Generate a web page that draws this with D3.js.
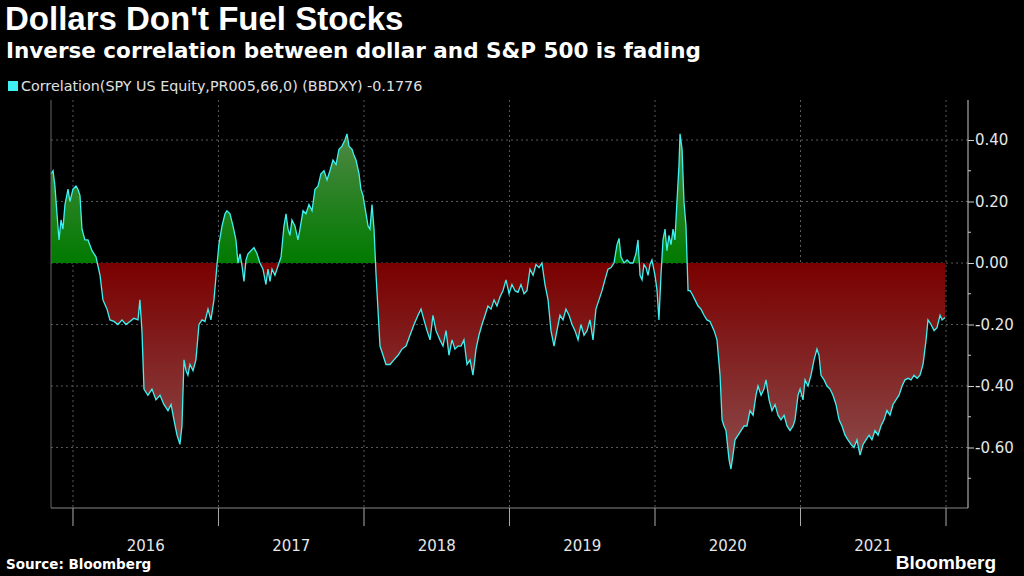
<!DOCTYPE html>
<html>
<head>
  <script src="https://d3js.org/d3.v7.min.js"></script>
  <style>
    body { margin: 0; background: #000; }
    text { font-family: "DejaVu Sans", sans-serif; }
  </style>
</head>
<body>
<div id="chart"></div>
<script>
// decimal-year dates and correlation values
const times = [2015.849,2015.863,2015.876,2015.890,2015.904,2015.918,2015.931,2015.945,2015.966,2015.979,
2016.000,2016.021,2016.034,2016.048,2016.062,2016.082,2016.103,2016.131,2016.158,2016.186,2016.206,2016.234,2016.254,2016.282,2016.309,2016.337,2016.364,2016.392,2016.419,2016.447,2016.460,2016.474,2016.488,2016.515,2016.543,2016.570,2016.598,2016.625,2016.653,2016.674,2016.694,2016.715,2016.735,2016.749,2016.763,2016.777,2016.790,2016.804,2016.825,2016.845,2016.866,2016.887,2016.907,2016.928,2016.948,2016.969,2016.990,
2017.003,2017.024,2017.045,2017.058,2017.079,2017.100,2017.120,2017.134,2017.148,2017.162,2017.175,2017.189,2017.203,2017.223,2017.244,2017.265,2017.285,2017.306,2017.326,2017.340,2017.354,2017.368,2017.388,2017.402,2017.416,2017.430,2017.450,2017.464,2017.478,2017.491,2017.505,2017.526,2017.546,2017.560,2017.581,2017.601,2017.622,2017.643,2017.663,2017.684,2017.704,2017.725,2017.746,2017.766,2017.787,2017.808,2017.828,2017.849,2017.869,2017.883,2017.897,2017.918,2017.931,2017.945,2017.966,2017.979,2017.993,
2018.014,2018.028,2018.041,2018.055,2018.069,2018.083,2018.096,2018.110,2018.131,2018.151,2018.179,2018.206,2018.234,2018.261,2018.289,2018.316,2018.344,2018.371,2018.392,2018.412,2018.433,2018.454,2018.474,2018.495,2018.522,2018.543,2018.564,2018.584,2018.605,2018.625,2018.646,2018.667,2018.687,2018.708,2018.729,2018.749,2018.770,2018.790,2018.811,2018.832,2018.852,2018.873,2018.894,2018.914,2018.935,2018.955,2018.976,2018.997,
2019.017,2019.038,2019.058,2019.079,2019.100,2019.120,2019.141,2019.162,2019.182,2019.203,2019.223,2019.244,2019.265,2019.285,2019.306,2019.326,2019.347,2019.368,2019.388,2019.409,2019.430,2019.450,2019.471,2019.491,2019.512,2019.533,2019.553,2019.574,2019.594,2019.615,2019.636,2019.656,2019.677,2019.698,2019.718,2019.739,2019.753,2019.766,2019.787,2019.808,2019.828,2019.849,2019.869,2019.883,2019.897,2019.911,2019.924,2019.938,2019.952,2019.966,2019.979,
2020.000,2020.014,2020.027,2020.041,2020.055,2020.069,2020.082,2020.096,2020.110,2020.124,2020.137,2020.151,2020.165,2020.172,2020.186,2020.199,2020.213,2020.227,2020.241,2020.254,2020.275,2020.296,2020.316,2020.337,2020.357,2020.378,2020.406,2020.426,2020.447,2020.461,2020.474,2020.488,2020.509,2020.522,2020.536,2020.550,2020.571,2020.591,2020.612,2020.632,2020.653,2020.674,2020.694,2020.708,2020.729,2020.749,2020.763,2020.784,2020.804,2020.825,2020.845,2020.866,2020.887,2020.907,2020.928,2020.949,2020.962,2020.983,2020.997,
2021.017,2021.031,2021.052,2021.072,2021.093,2021.113,2021.127,2021.141,2021.162,2021.182,2021.203,2021.223,2021.244,2021.265,2021.285,2021.306,2021.326,2021.347,2021.368,2021.388,2021.409,2021.430,2021.450,2021.471,2021.491,2021.512,2021.533,2021.553,2021.574,2021.594,2021.615,2021.636,2021.656,2021.677,2021.698,2021.718,2021.739,2021.760,2021.780,2021.801,2021.821,2021.842,2021.863,2021.876,2021.897,2021.918,2021.938,2021.959,2021.973,2021.993];

const values = [0.29,0.30,0.25,0.16,0.075,0.14,0.11,0.19,0.24,0.20,
0.24,0.25,0.24,0.22,0.11,0.075,0.075,0.04,0.02,-0.04,-0.12,-0.15,-0.185,-0.19,-0.20,-0.185,-0.20,-0.19,-0.18,-0.185,-0.12,-0.22,-0.41,-0.43,-0.41,-0.445,-0.43,-0.46,-0.48,-0.46,-0.51,-0.56,-0.59,-0.53,-0.315,-0.35,-0.365,-0.33,-0.35,-0.315,-0.20,-0.185,-0.19,-0.15,-0.185,-0.12,-0.005,
0.06,0.12,0.16,0.17,0.16,0.12,0.075,0.00,0.03,-0.01,-0.06,0.01,0.03,0.04,0.05,0.03,0.00,-0.02,-0.07,-0.02,-0.06,-0.02,-0.04,-0.02,0.00,0.02,0.12,0.16,0.11,0.09,0.14,0.12,0.075,0.11,0.17,0.16,0.19,0.17,0.24,0.25,0.29,0.30,0.27,0.30,0.335,0.32,0.37,0.38,0.40,0.42,0.38,0.37,0.35,0.335,0.29,0.24,0.22,
0.16,0.12,0.11,0.19,0.11,-0.04,-0.15,-0.27,-0.30,-0.33,-0.33,-0.315,-0.30,-0.28,-0.27,-0.235,-0.20,-0.17,-0.15,-0.185,-0.22,-0.25,-0.17,-0.22,-0.25,-0.27,-0.22,-0.30,-0.25,-0.28,-0.27,-0.27,-0.25,-0.33,-0.315,-0.365,-0.28,-0.235,-0.20,-0.17,-0.14,-0.15,-0.12,-0.14,-0.11,-0.09,-0.055,-0.10,
-0.07,-0.09,-0.095,-0.07,-0.10,-0.09,-0.02,-0.04,-0.005,-0.015,0.00,-0.07,-0.12,-0.22,-0.27,-0.22,-0.17,-0.185,-0.15,-0.17,-0.20,-0.22,-0.25,-0.20,-0.235,-0.22,-0.185,-0.25,-0.15,-0.12,-0.09,-0.055,-0.02,-0.015,0.00,0.06,0.08,0.02,0.00,0.01,0.00,0.00,0.03,0.075,-0.04,-0.055,-0.005,-0.015,-0.04,-0.005,0.01,
-0.04,-0.09,-0.185,-0.04,0.075,0.11,0.04,0.09,0.06,0.11,0.075,0.20,0.32,0.42,0.37,0.20,0.12,-0.09,-0.09,-0.10,-0.12,-0.14,-0.15,-0.17,-0.185,-0.19,-0.22,-0.25,-0.365,-0.51,-0.53,-0.545,-0.64,-0.67,-0.625,-0.575,-0.56,-0.545,-0.53,-0.53,-0.48,-0.495,-0.43,-0.40,-0.43,-0.41,-0.38,-0.445,-0.48,-0.46,-0.495,-0.51,-0.495,-0.53,-0.545,-0.53,-0.51,-0.43,-0.41,
-0.445,-0.38,-0.40,-0.365,-0.315,-0.28,-0.30,-0.365,-0.38,-0.40,-0.41,-0.43,-0.46,-0.51,-0.53,-0.56,-0.575,-0.59,-0.60,-0.575,-0.625,-0.59,-0.575,-0.56,-0.575,-0.545,-0.56,-0.53,-0.51,-0.48,-0.495,-0.46,-0.445,-0.43,-0.40,-0.38,-0.375,-0.38,-0.365,-0.375,-0.365,-0.33,-0.25,-0.185,-0.20,-0.22,-0.21,-0.17,-0.185,-0.1776];

const years = [2016, 2017, 2018, 2019, 2020, 2021];
const yTicks = [0.4, 0.2, 0, -0.2, -0.4, -0.6];

const W = 1024, H = 576;
const pL = 51, pR = 968, pT = 100, pB = 508;
const data = times.map((t, i) => ({t, v: values[i]}));

const svg = d3.select("#chart").append("svg").attr("width", W).attr("height", H)
  .style("background", "#000");

const x = d3.scaleLinear().domain([times[0], times[times.length - 1]]).range([pL, 945]);
const y = d3.scaleLinear().domain([-0.8, 0.4]).range([509, 140]);

const defs = svg.append("defs");
const gG = defs.append("linearGradient").attr("id", "gGreen").attr("gradientUnits", "userSpaceOnUse")
  .attr("x1", 0).attr("x2", 0).attr("y1", y(0.42)).attr("y2", y(0));
gG.append("stop").attr("offset", 0).attr("stop-color", "#4f8844");
gG.append("stop").attr("offset", 1).attr("stop-color", "#007a00");
const gR = defs.append("linearGradient").attr("id", "gRed").attr("gradientUnits", "userSpaceOnUse")
  .attr("x1", 0).attr("x2", 0).attr("y1", y(0)).attr("y2", y(-0.67));
gR.append("stop").attr("offset", 0).attr("stop-color", "#7a0000");
gR.append("stop").attr("offset", 1).attr("stop-color", "#8c4c4c");
defs.append("clipPath").attr("id", "cAbove").append("rect")
  .attr("x", 0).attr("y", 0).attr("width", W).attr("height", y(0));
defs.append("clipPath").attr("id", "cBelow").append("rect")
  .attr("x", 0).attr("y", y(0)).attr("width", W).attr("height", H);

// grid
svg.append("g").selectAll("line").data(yTicks).join("line")
  .attr("x1", pL).attr("x2", pR).attr("y1", d => y(d)).attr("y2", d => y(d))
  .attr("stroke", "#5a5a5a").attr("stroke-dasharray", "2,3");
svg.append("g").selectAll("line").data(years.concat([2022])).join("line")
  .attr("x1", d => x(d)).attr("x2", d => x(d)).attr("y1", pT).attr("y2", pB)
  .attr("stroke", "#5a5a5a").attr("stroke-dasharray", "2,3");

// fills
const area = d3.area().x(d => x(d.t)).y0(y(0)).y1(d => y(d.v));
svg.append("path").datum(data).attr("d", area).attr("fill", "url(#gGreen)").attr("clip-path", "url(#cAbove)");
svg.append("path").datum(data).attr("d", area).attr("fill", "url(#gRed)").attr("clip-path", "url(#cBelow)");

svg.append("path").datum(data)
  .attr("d", d3.line().x(d => x(d.t)).y(d => y(d.v)))
  .attr("fill", "none").attr("stroke", "#3ff0f0").attr("stroke-width", 1.3);

// frame
svg.append("line").attr("x1", pL).attr("x2", pL).attr("y1", pT).attr("y2", pB).attr("stroke", "#666");
svg.append("line").attr("x1", pL).attr("x2", pR).attr("y1", pB).attr("y2", pB).attr("stroke", "#888");

// right axis
const yAxis = d3.axisRight(y).tickValues(yTicks).tickSize(6).tickFormat(d3.format(".2f"));
const ga = svg.append("g").attr("transform", `translate(${pR},0)`).call(yAxis);
ga.select(".domain").attr("d", `M0,${pT}V${pB}`).attr("stroke", "#ccc");
ga.selectAll(".tick line").attr("stroke", "#ccc");
ga.selectAll(".tick text").attr("fill", "#e6e6e6").attr("font-size", 15)
  .attr("font-family", "DejaVu Sans").attr("x", 7)
  .text(d => d3.format(".2f")(d).replace("−", "-"));
ga.append("g").selectAll("line").data([0.3, 0.1, -0.1, -0.3, -0.5, -0.7]).join("line")
  .attr("x1", 0).attr("x2", 3).attr("y1", d => y(d)).attr("y2", d => y(d)).attr("stroke", "#ccc");

// year ticks and labels
svg.append("g").selectAll("line").data(years.concat([2022])).join("line")
  .attr("x1", d => x(d)).attr("x2", d => x(d)).attr("y1", pB).attr("y2", 526)
  .attr("stroke", "#aaa");
svg.append("g").selectAll("text").data(years).join("text")
  .attr("x", d => x(d + 0.5)).attr("y", 551).attr("text-anchor", "middle")
  .attr("fill", "#e6e6e6").attr("font-size", 15).text(d => d);

// titles
svg.append("text").attr("x", 5).attr("y", 30).attr("fill", "#fff")
  .style("font-family", "Liberation Sans, Arial").attr("font-weight", "bold").attr("font-size", 33)
  .text("Dollars Don't Fuel Stocks");
svg.append("text").attr("x", 6).attr("y", 58).attr("fill", "#fff")
  .style("font-family", "DejaVu Sans").attr("font-weight", "bold").attr("font-size", 21.5)
  .text("Inverse correlation between dollar and S&P 500 is fading");
svg.append("rect").attr("x", 8).attr("y", 81).attr("width", 10).attr("height", 10).attr("fill", "#3ff0f0");
svg.append("text").attr("x", 21).attr("y", 91).attr("fill", "#e0e0e0").attr("font-size", 14.3)
  .text("Correlation(SPY US Equity,PR005,66,0) (BBDXY) -0.1776");
svg.append("text").attr("x", 6).attr("y", 569).attr("fill", "#fff").attr("font-weight", "bold")
  .attr("font-size", 13.5).text("Source: Bloomberg");
svg.append("text").attr("x", 996).attr("y", 569).attr("text-anchor", "end").attr("fill", "#fff")
  .style("font-family", "Liberation Sans, Arial").attr("font-weight", "bold").attr("font-size", 19)
  .text("Bloomberg");
</script>
</body>
</html>
